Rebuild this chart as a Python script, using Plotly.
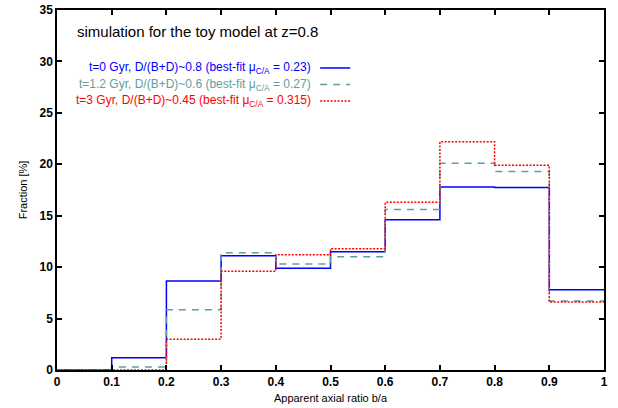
import plotly.graph_objects as go

# Histogram bin edges of the apparent axial ratio b/a
bin_edges = [0.0, 0.1, 0.2, 0.3, 0.4, 0.5, 0.6, 0.7, 0.8, 0.9, 1.0]

# Fraction [%] per bin for each evolutionary stage
frac_t0 = [0.0, 1.2, 8.65, 11.1, 9.9, 11.5, 14.6, 17.8, 17.75, 7.8]
frac_t12 = [0.0, 0.3, 5.85, 11.4, 10.3, 11.0, 15.6, 20.1, 19.3, 6.7]
frac_t3 = [0.0, 0.0, 3.0, 9.6, 11.2, 11.8, 16.3, 22.2, 19.9, 6.6]

labels = [
    "t=0 Gyr, D/(B+D)~0.8 (best-fit μ<sub>C/A</sub> = 0.23)",
    "t=1.2 Gyr, D/(B+D)~0.6 (best-fit μ<sub>C/A</sub> = 0.27)",
    "t=3 Gyr, D/(B+D)~0.45 (best-fit μ<sub>C/A</sub> = 0.315)",
]
colors = ["#0000ff", "#5f9ea0", "#ff0000"]
dashes = ["solid", "7px,6px", "2px,1.5px"]
series = [frac_t0, frac_t12, frac_t3]

x_ticks = [0, 0.1, 0.2, 0.3, 0.4, 0.5, 0.6, 0.7, 0.8, 0.9, 1]
x_tick_text = ["0", "0.1", "0.2", "0.3", "0.4", "0.5", "0.6", "0.7", "0.8", "0.9", "1"]
y_ticks = [0, 5, 10, 15, 20, 25, 30, 35]

fig = go.Figure()
for vals, col, dash in zip(series, colors, dashes):
    xs = bin_edges[:-1] + [bin_edges[-1]]
    ys = vals + [vals[-1]]
    fig.add_trace(go.Scatter(
        x=xs, y=ys, mode="lines", line_shape="hv",
        line=dict(color=col, width=1.5, dash=dash),
        showlegend=False, hoverinfo="skip",
    ))

font_main = "Liberation Sans, Arial, Helvetica, sans-serif"

# Key: right-aligned text with a line sample to its right
key_y = [0.839, 0.793, 0.747]
for lab, col, dash, ky in zip(labels, colors, dashes, key_y):
    fig.add_annotation(
        xref="paper", yref="paper", x=0.468, y=ky, text=lab,
        showarrow=False, xanchor="right", yanchor="middle",
        font=dict(family=font_main, size=12, color=col),
    )
    fig.add_shape(
        type="line", xref="paper", yref="paper",
        x0=0.481, x1=0.536, y0=ky, y1=ky,
        line=dict(color=col, width=1.5, dash=dash),
    )

fig.add_annotation(
    xref="paper", yref="paper", x=0.033, y=0.939,
    text="simulation for the toy model at z=0.8", showarrow=False,
    xanchor="left", yanchor="middle",
    font=dict(family=font_main, size=15, color="black"),
)

axis_common = dict(
    showgrid=False, zeroline=False, showline=True, linecolor="black",
    linewidth=1.5, mirror="ticks", ticks="inside", ticklen=5,
    tickwidth=1.5, tickcolor="black", automargin=False,
    tickfont=dict(family=font_main, size=12, color="black", weight="bold"),
)

fig.update_layout(
    width=618, height=408,
    margin=dict(l=57, r=14, t=10, b=38),
    paper_bgcolor="white", plot_bgcolor="white",
    xaxis=dict(range=[0, 1], tickvals=x_ticks, ticktext=x_tick_text,
               title=dict(text="Apparent axial ratio b/a", standoff=6,
                          font=dict(family=font_main, size=11, color="black")),
               **axis_common),
    yaxis=dict(range=[0, 35], tickvals=y_ticks,
               title=dict(text="Fraction [%]", standoff=10,
                          font=dict(family=font_main, size=11, color="black")),
               **axis_common),
)

fig.write_html("out.html")
